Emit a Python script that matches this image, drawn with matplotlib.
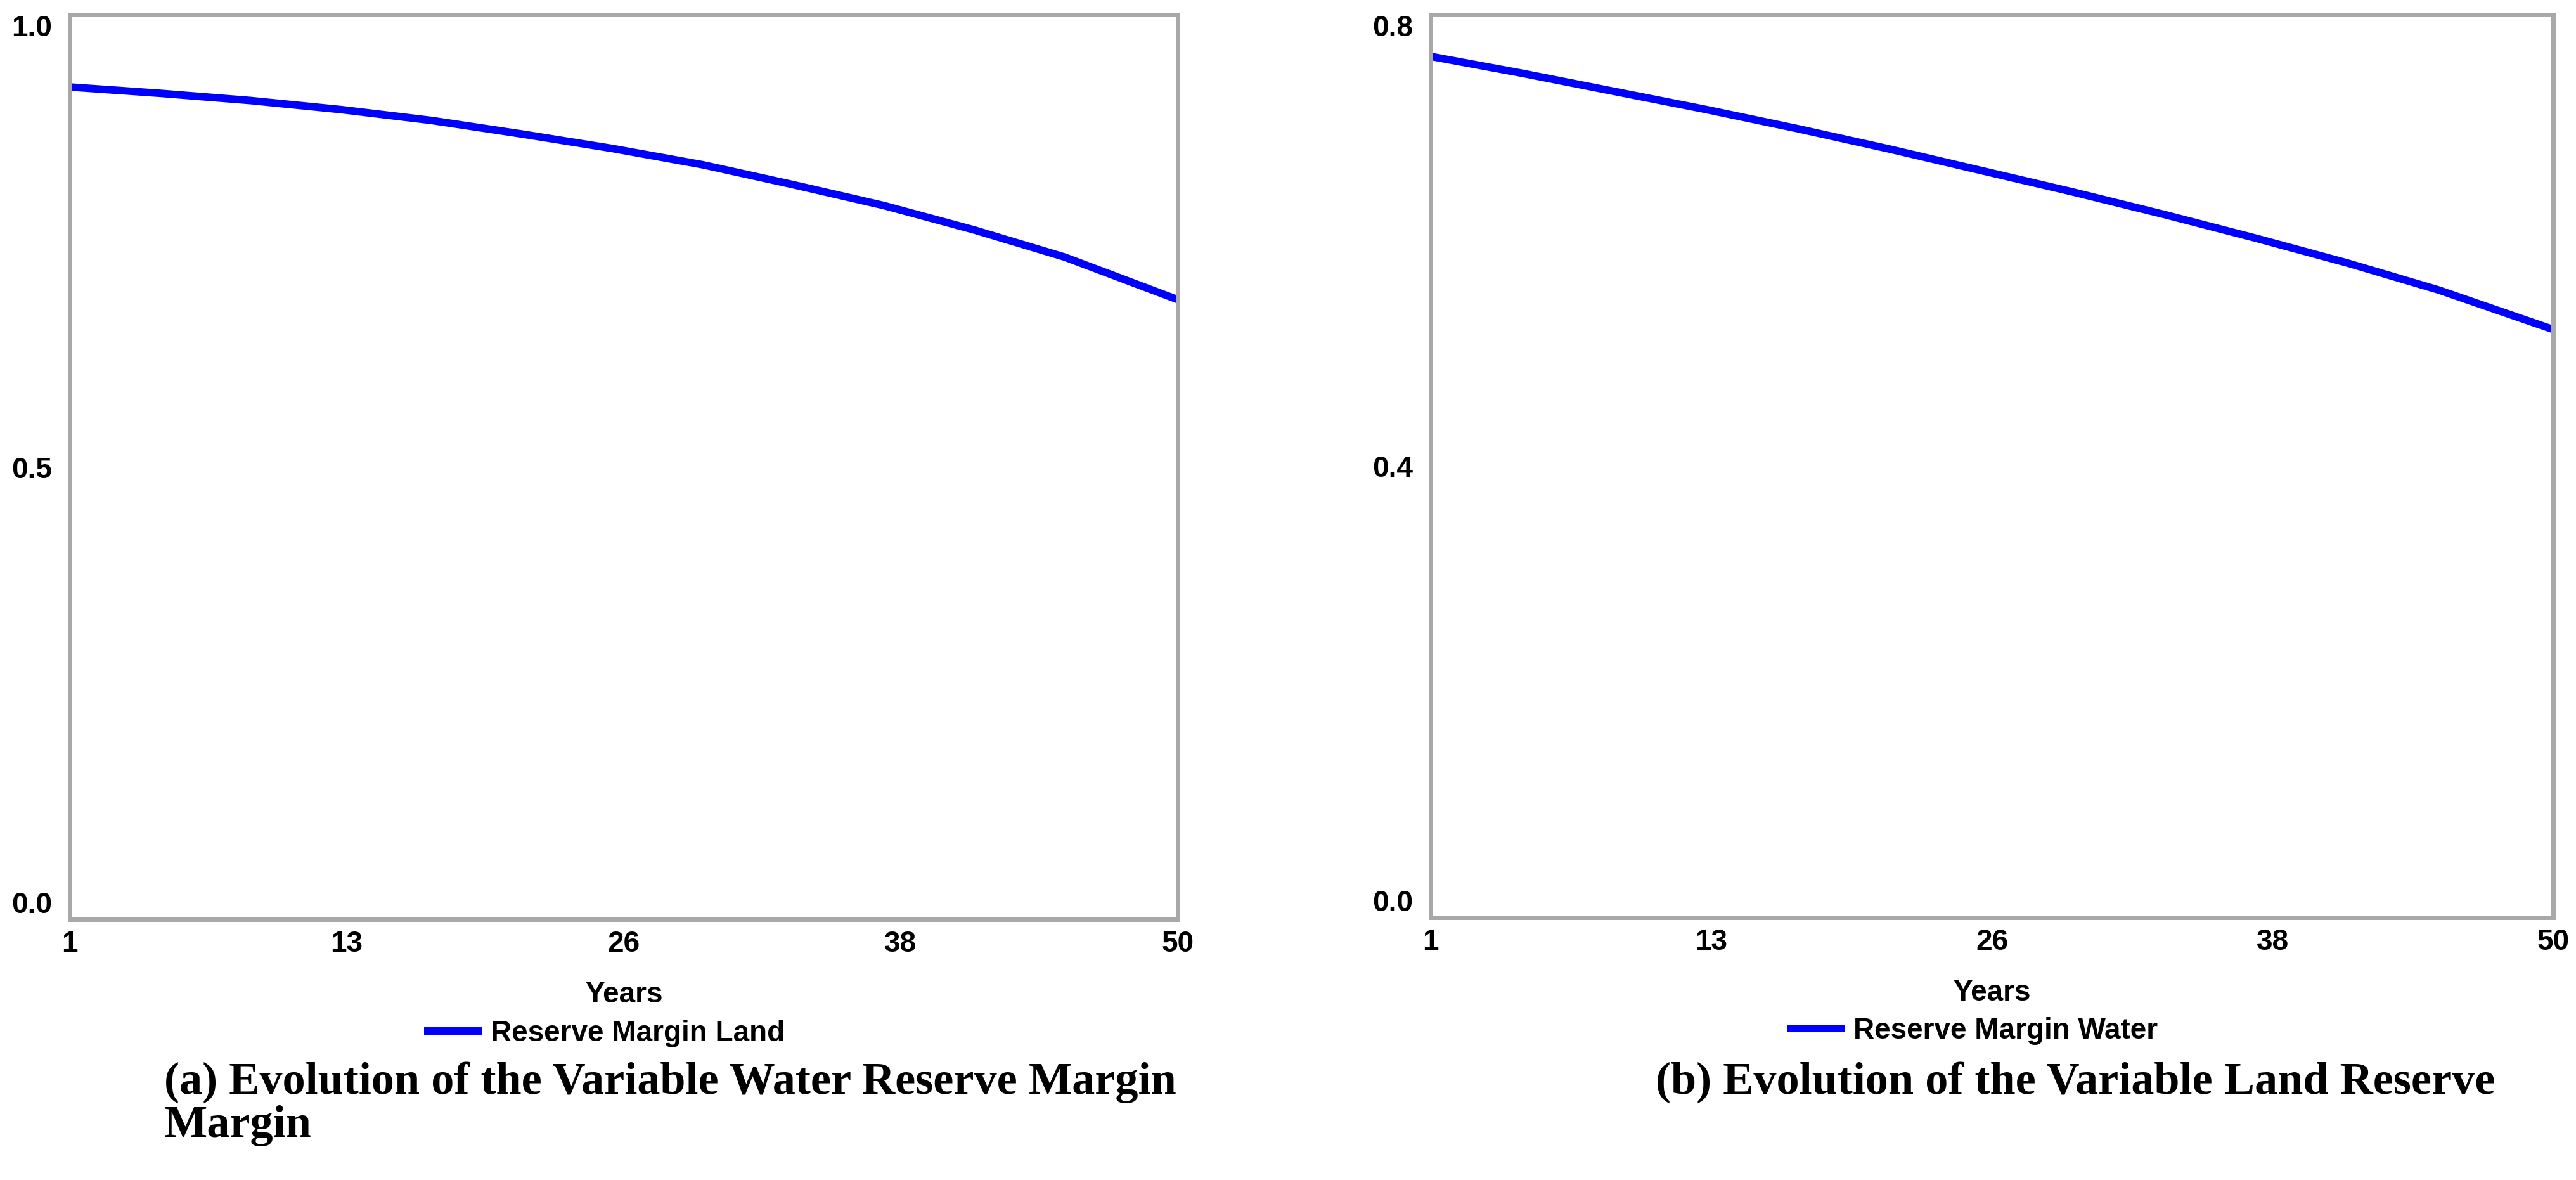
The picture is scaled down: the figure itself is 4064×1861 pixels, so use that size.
import matplotlib.pyplot as plt

# values
years = [1, 5, 9, 13, 17, 21, 25, 29, 33, 37, 41, 45, 50]
land_margin = [0.920, 0.913, 0.905, 0.895, 0.883, 0.868, 0.852, 0.834, 0.812, 0.789, 0.762, 0.732, 0.685]
water_margin = [0.763, 0.748, 0.732, 0.716, 0.699, 0.681, 0.662, 0.643, 0.623, 0.602, 0.580, 0.556, 0.521]

x_ticks = [1, 13.25, 25.5, 37.75, 50]
x_labels = ["1", "13", "26", "38", "50"]
land_ticks = [0.0, 0.5, 1.0]
land_labels = ["0.0", "0.5", "1.0"]
water_ticks = [0.0, 0.4, 0.8]
water_labels = ["0.0", "0.4", "0.8"]

W, H = 4064, 1861
SANS = "Liberation Sans"
SERIF = "Liberation Serif"

fig = plt.figure(figsize=(W / 100, H / 100), dpi=100)


def px(x, y):
    # pixel (from top-left) to figure fraction
    return x / W, 1 - y / H


def setup_axes(rect, yticks, ylabels, ymax):
    ax = fig.add_axes(rect)
    ax.set_xlim(1, 50)
    ax.set_ylim(0, ymax)
    for s in ax.spines.values():
        s.set_color("#a8a8a8")
        s.set_linewidth(5)
    ax.set_xticks(x_ticks)
    ax.set_xticklabels(x_labels)
    ax.set_yticks(yticks)
    ax.set_yticklabels(ylabels)
    ax.tick_params(length=0, labelsize=33)
    ax.tick_params(axis="x", pad=12)
    ax.tick_params(axis="y", pad=20)
    for lab in ax.get_xticklabels() + ax.get_yticklabels():
        lab.set_family(SANS)
        lab.set_fontweight("bold")
    ylabs = ax.get_yticklabels()
    ylabs[0].set_verticalalignment("bottom")
    ylabs[-1].set_verticalalignment("top")
    ax.set_xlabel("Years", fontsize=33, family=SANS, fontweight="bold", labelpad=26)
    return ax


# (a) land
x0, y1 = px(110, 23)
x1, y0 = px(1858, 1450)
ax1 = setup_axes([x0, y0, x1 - x0, y1 - y0], land_ticks, land_labels, 1.0)
(l1,) = ax1.plot(years, land_margin, color="#0000ff", lw=8.6, solid_capstyle="butt", clip_on=False)

# (b) water
x0, y1 = px(2257, 23)
x1, y0 = px(4028, 1447)
ax2 = setup_axes([x0, y0, x1 - x0, y1 - y0], water_ticks, water_labels, 0.8)
(l2,) = ax2.plot(years, water_margin, color="#0000ff", lw=8.6, solid_capstyle="butt", clip_on=False)

leg_props = dict(family=SANS, weight="bold", size=33)
fig.legend([l1], ["Reserve Margin Land"], loc="center left", bbox_to_anchor=px(669, 1630),
           frameon=False, prop=leg_props, handlelength=2.0, handletextpad=0.3,
           borderpad=0, borderaxespad=0)
fig.legend([l2], ["Reserve Margin Water"], loc="center left", bbox_to_anchor=px(2819, 1626),
           frameon=False, prop=leg_props, handlelength=2.0, handletextpad=0.3,
           borderpad=0, borderaxespad=0)

cap = dict(family=SERIF, weight="bold", fontsize=52, va="center", ha="left")
fig.text(*px(259, 1707), "(a) Evolution of the Variable Water Reserve Margin", **cap)
fig.text(*px(259, 1775), "Margin", **cap)
fig.text(*px(2612, 1707), "(b) Evolution of the Variable Land Reserve", **cap)

fig.savefig("out.png", dpi=100)
